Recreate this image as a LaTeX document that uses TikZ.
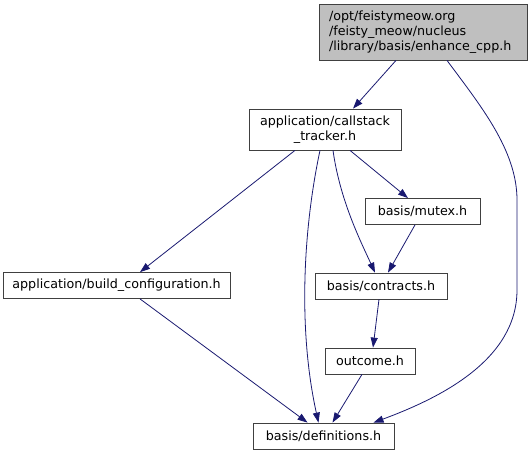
\documentclass[tikz,border=0pt]{standalone}
\usepackage{fontspec}
\setmainfont{DejaVu Sans}
\usetikzlibrary{arrows.meta}
\definecolor{edgec}{HTML}{191970}
\definecolor{boxc}{HTML}{404040}
\definecolor{rootc}{HTML}{BFBFBF}
\begin{document}
\begin{tikzpicture}[x=1pt,y=-1pt,
  box/.style={draw=boxc, line width=0.8pt, fill=white, inner sep=0pt,
    font=\fontsize{12.7}{15}\selectfont, align=center},
  edge/.style={draw=edgec, line width=0.8pt, -{Triangle[length=10pt,width=7pt]}}]
\useasboundingbox (0,0) rectangle (531,455);

\node[box, fill=rootc, minimum width=208pt, minimum height=56pt, text width=188pt, align=left] (top) at (423,32)
  {/opt/feistymeow.org\\/feisty\_meow/nucleus\\/library/basis/enhance\_cpp.h};
\node[box, minimum width=152pt, minimum height=41pt] (callstack) at (325,129.5)
  {application/callstack\\\_tracker.h};
\node[box, minimum width=115pt, minimum height=26pt] (mutex) at (422.5,211.5) {basis/mutex.h};
\node[box, minimum width=227pt, minimum height=26pt] (build) at (116.5,285.5) {application/build\_configuration.h};
\node[box, minimum width=132pt, minimum height=26pt] (contracts) at (381,286) {basis/contracts.h};
\node[box, minimum width=90pt, minimum height=26pt] (outcome) at (370,361) {outcome.h};
\node[box, minimum width=141pt, minimum height=26pt] (defs) at (323.5,436) {basis/definitions.h};

\draw[edge] ([xshift=-27pt]top.south) -- ([xshift=28pt]callstack.north);
\draw[edge] ([xshift=24pt]top.south) .. controls (480,105) and (517,150) .. (517,200)
  -- (517,290) .. controls (517,360) and (440,398) .. ([xshift=50pt]defs.north);
\draw[edge] ([xshift=-30pt]callstack.south) -- ([xshift=23.5pt]build.north);
\draw[edge] ([xshift=-5pt]callstack.south) .. controls (303,230) and (298,330) .. ([xshift=-5pt]defs.north);
\draw[edge] ([xshift=8pt]callstack.south) .. controls (340,200) and (360,240) .. ([xshift=-6pt]contracts.north);
\draw[edge] ([xshift=25pt]callstack.south) -- ([xshift=-14.5pt]mutex.north);
\draw[edge] ([xshift=-7.5pt]mutex.south) -- ([xshift=7pt]contracts.north);
\draw[edge] ([xshift=-2pt]contracts.south) -- ([xshift=3pt]outcome.north);
\draw[edge] ([xshift=-8pt]outcome.south) -- ([xshift=9pt]defs.north);
\draw[edge] ([xshift=23.5pt]build.south) -- ([xshift=-16pt]defs.north);
\end{tikzpicture}
\end{document}
